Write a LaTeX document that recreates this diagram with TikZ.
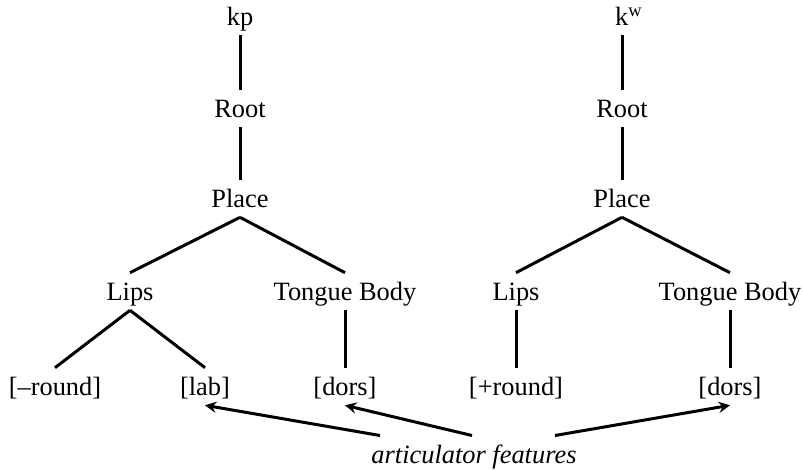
\documentclass[tikz,border=0pt]{standalone}
\usepackage{fontspec}
\setmainfont{Liberation Serif}
\usepackage{tikz}
\tikzset{%
  every tier/.style={
    text height=8.7pt,
    text depth=0pt,
    inner xsep=2pt,
    inner ysep=4.3pt
  },
  tier feature/.style={
    every tier,
    font=\fontsize{13.2}{16}\selectfont\itshape
  },
}

\begin{document}
\begin{tikzpicture}[x=0.5pt, y=-0.5pt, >=stealth, line width=1.5pt,
  font=\fontsize{13.2}{16}\selectfont]
\useasboundingbox (0,0) rectangle (803,470);

\foreach \t/\x/\y/\s in {l/240/240/kp, r/622/629/{k\textsuperscript{w}}} {
  \node [every tier] (seg-\t) at (\y,16.5) {\s};
  \node [every tier] (root-\t) at (\x,108.5) {Root};
  \node [every tier] (place-\t) at (\x,198.5) {Place};
  \draw (root-\t |- seg-\t.south) -- (root-\t);
  \draw (root-\t) -- (place-\t);
}

\foreach \t/\a/\b in {l/130/345, r/516/730} {
  \node [every tier] (lips-\t) at (\a,291.5) {Lips};
  \node [every tier] (tongue-\t) at (\b,291.5) {Tongue Body};
  \draw (place-\t.south) -- (lips-\t.north);
  \draw (place-\t.south) -- (tongue-\t.north);
}

\foreach \n/\x/\l in {minus-round/55/{[--round]}, lab/205/{[lab]},
    dors-l/345/{[dors]}, plus-round/516/{[+round]}, dors-r/730/{[dors]}}
  \node [every tier] (\n) at (\x,386.5) {\l};

\draw (lips-l.south) -- (minus-round.north);
\draw (lips-l.south) -- (lab.north);
\draw (tongue-l) -- (dors-l);
\draw (lips-r) -- (plus-round);
\draw (tongue-r) -- (dors-r);

\node [tier feature] (feat) at (474,454.3) {articulator features};

\draw [->] ([xshift=-47pt]feat.north) -- (lab.south);
\draw [->] ([xshift=-1pt]feat.north) -- (dors-l.south);
\draw [->] ([xshift=40.5pt]feat.north) -- (dors-r.south);
\end{tikzpicture}
\end{document}
